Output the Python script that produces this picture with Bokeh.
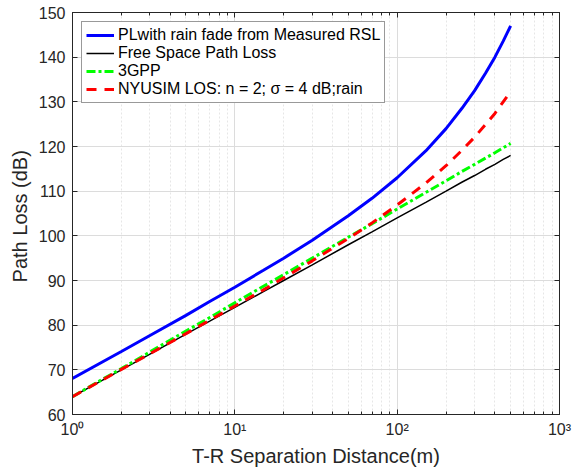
from bokeh.plotting import figure
from bokeh.models import LogAxis, LinearAxis, Range1d, FixedTicker, Legend
from bokeh.embed import file_html
from bokeh.resources import INLINE

# distances (m)
dist = [1, 2, 3, 5, 7, 10, 15, 20, 30, 50, 70, 100, 150, 200, 250, 300, 350, 400, 450, 500]
# path loss readings (dB)
pl_measured = [68.1, 74.1, 77.7, 82.2, 85.3, 88.5, 92.3, 95.0, 99.0, 104.5, 108.4, 113.0,
               119.0, 124.0, 128.5, 132.5, 136.4, 140.0, 143.6, 147.0]
fspl = [64.0, 70.0, 73.5, 78.0, 80.9, 84.0, 87.5, 90.0, 93.5, 98.0, 100.9, 104.0,
        107.5, 110.0, 112.0, 113.5, 114.9, 116.0, 117.1, 118.0]
gpp3 = [64.0, 70.3, 74.0, 78.7, 81.7, 85.0, 88.7, 91.3, 95.0, 99.7, 102.7, 106.0,
        109.7, 112.3, 114.4, 116.0, 117.4, 118.6, 119.7, 120.7]
nyusim = [64.0, 70.1, 73.6, 78.1, 81.1, 84.3, 87.9, 90.6, 94.4, 99.4, 102.9, 106.9,
          111.8, 115.7, 119.1, 122.1, 124.9, 127.4, 130.0, 132.3]

names = ["PLwith rain fade from Measured RSL", "Free Space Path Loss", "3GPP",
         "NYUSIM LOS: n = 2; \u03c3 = 4 dB;rain"]
y_ticks = [60, 70, 80, 90, 100, 110, 120, 130, 140, 150]
x_ticks = [1, 10, 100, 1000]
x_minor = [2, 3, 4, 5, 6, 7, 8, 9, 20, 30, 40, 50, 60, 70, 80, 90,
           200, 300, 400, 500, 600, 700, 800, 900]
x_tick_labels = {1: "10\u2070", 10: "10\u00b9", 100: "10\u00b2", 1000: "10\u00b3"}

FONT = "Liberation Sans"
TXT = "#262626"

p = figure(width=572, height=470, x_axis_type="log", output_backend="svg",
           toolbar_location=None, x_range=Range1d(1, 1000), y_range=Range1d(60, 150),
           min_border_left=72, min_border_top=12, min_border_right=13, min_border_bottom=56)

p.outline_line_color = TXT
p.outline_line_width = 1
p.background_fill_color = "white"

r1 = p.line(dist, pl_measured, line_color="#0000ff", line_width=3)
r2 = p.line(dist, fspl, line_color="black", line_width=1.5)
r3 = p.line(dist, gpp3, line_color="#00ff00", line_width=3, line_dash="9 3 3 3")
r4 = p.line(dist, nyusim, line_color="#ff0000", line_width=3, line_dash="10 8")

legend = Legend(items=[(names[0], [r1]), (names[1], [r2]), (names[2], [r3]), (names[3], [r4])],
                location="top_left")
legend.label_text_font = FONT
legend.label_text_font_size = "16px"
legend.label_text_color = "black"
legend.glyph_width = 28
legend.glyph_height = 18
legend.label_height = 18
legend.label_standoff = 4
legend.spacing = 0
legend.padding = 4
legend.margin = 9
legend.border_line_color = "#333333"
legend.border_line_width = 1
legend.background_fill_alpha = 1
p.add_layout(legend)

for ax in (p.xaxis[0], p.yaxis[0]):
    ax.major_label_text_font = FONT
    ax.major_label_text_font_size = "16px"
    ax.major_label_text_color = TXT
    ax.axis_label_text_font = FONT
    ax.axis_label_text_font_size = "20px"
    ax.axis_label_text_font_style = "normal"
    ax.axis_label_text_color = TXT
    ax.axis_line_color = TXT
    ax.major_tick_line_color = TXT
    ax.minor_tick_line_color = TXT
    ax.major_tick_in = 5
    ax.major_tick_out = 0
    ax.minor_tick_in = 3
    ax.minor_tick_out = 0

p.xaxis.ticker = FixedTicker(ticks=x_ticks, minor_ticks=x_minor)
p.xaxis.major_label_overrides = x_tick_labels
p.xaxis.major_label_standoff = 6
p.xaxis.axis_label = "T-R Separation Distance(m)"
p.xaxis.axis_label_standoff = 4
p.yaxis.ticker = FixedTicker(ticks=y_ticks)
p.yaxis.minor_tick_line_color = None
p.yaxis.major_label_standoff = 7
p.yaxis.axis_label = "Path Loss  (dB)"
p.yaxis.axis_label_standoff = 5

p.xgrid.grid_line_color = "#dcdcdc"
p.xgrid.minor_grid_line_color = "#e6e6e6"
p.xgrid.minor_grid_line_dash = "2 2"
p.ygrid.grid_line_color = "#dcdcdc"

# box ticks on top and right
top_ax = LogAxis(ticker=FixedTicker(ticks=x_ticks, minor_ticks=x_minor),
                 major_label_text_alpha=0, major_label_text_font_size="1px",
                 major_tick_in=5, major_tick_out=0,
                 minor_tick_in=3, minor_tick_out=0, axis_line_color=TXT,
                 major_tick_line_color=TXT, minor_tick_line_color=TXT, major_label_standoff=0)
right_ax = LinearAxis(ticker=FixedTicker(ticks=y_ticks), major_label_text_alpha=0,
                      major_label_text_font_size="1px",
                      major_tick_in=5, major_tick_out=0, minor_tick_line_color=None,
                      axis_line_color=TXT, major_tick_line_color=TXT, major_label_standoff=0)
p.add_layout(top_ax, "above")
p.add_layout(right_ax, "right")

open("out.html", "w").write(file_html(p, INLINE))
